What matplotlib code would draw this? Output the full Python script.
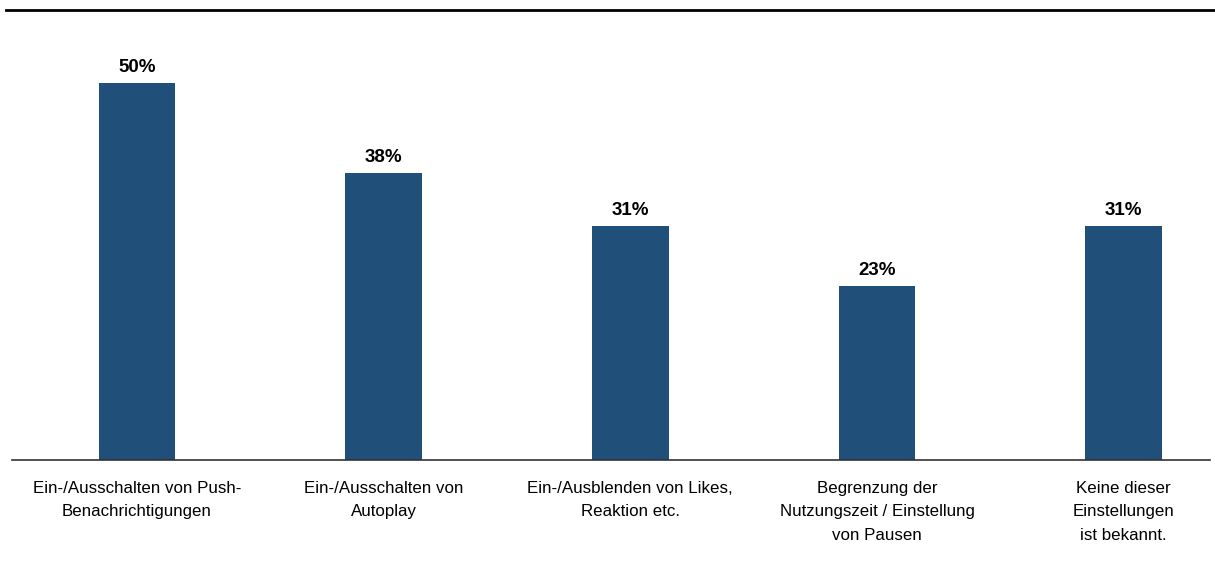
import matplotlib
matplotlib.use("Agg")
import matplotlib.pyplot as plt
from matplotlib.lines import Line2D

plt.rcParams['font.family'] = ['Liberation Sans', 'DejaVu Sans']

categories = [
    "Ein-/Ausschalten von Push-\nBenachrichtigungen",
    "Ein-/Ausschalten von\nAutoplay",
    "Ein-/Ausblenden von Likes,\nReaktion etc.",
    "Begrenzung der\nNutzungszeit / Einstellung\nvon Pausen",
    "Keine dieser\nEinstellungen\nist bekannt.",
]
values = [50, 38, 31, 23, 31]
bar_color = "#204f79"

fig = plt.figure(figsize=(12.15, 5.72), dpi=100)
ax = fig.add_axes([12 / 1215, 112 / 572, 1198 / 1215, 415 / 572])

x = list(range(len(values)))
ax.bar(x, values, width=0.31, color=bar_color)
for xi, v in zip(x, values):
    ax.text(xi, v + 0.95, f"{v}%", ha="center", va="bottom",
            fontsize=13.5, fontweight="bold", color="black")

ax.set_xlim(-0.507, 4.35)
ax.set_ylim(0, 55)
ax.set_xticks(x)
ax.set_xticklabels(categories, fontsize=12.2, linespacing=1.7)
ax.tick_params(axis="x", length=0, pad=15)
ax.set_yticks([])
for side in ["top", "right", "left"]:
    ax.spines[side].set_visible(False)
ax.spines["bottom"].set_color("#333333")
ax.spines["bottom"].set_linewidth(1.2)

# heavy rule across the top of the figure
fig.add_artist(Line2D([6 / 1215, 1.0], [1 - 10 / 572, 1 - 10 / 572],
                      color="black", linewidth=2, transform=fig.transFigure))

fig.savefig("out.png", dpi=100)
